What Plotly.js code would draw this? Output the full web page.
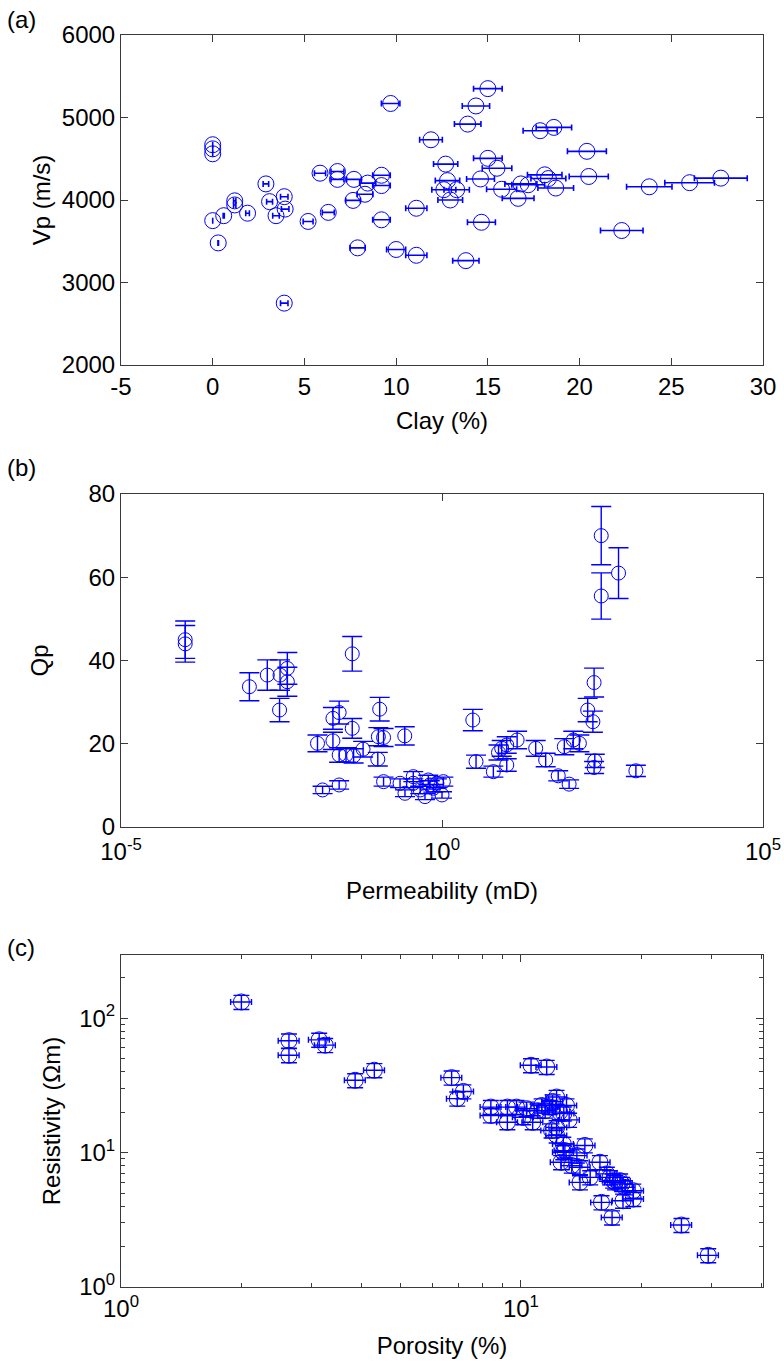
<!DOCTYPE html>
<html>
<head>
<meta charset="utf-8">
<script src="https://cdn.plot.ly/plotly-3.0.1.min.js"></script>
<style>html,body{margin:0;padding:0;background:#fff;}#chart{width:784px;height:1368px;}</style>
</head>
<body>
<div id="chart"></div>
<script>
// ---------- Panel (a): Vp vs Clay ----------
const clayPct = [0,0,0,0,0.6,0.3,1.2,1.2,1.9,2.9,3.1,3.45,3.9,3.95,3.9,5.2,5.85,6.3,6.8,6.8,7.7,7.65,8.45,8.3,7.9,9.2,9.2,9.2,9.7,10.0,11.1,11.1,11.9,15.0,14.35,13.9,12.7,12.8,12.6,13.3,12.95,15.0,15.5,14.6,15.75,16.65,16.8,17.2,14.65,13.8,17.85,18.6,18.1,18.3,18.7,20.4,20.5,22.3,23.8,26.0,27.7];
const vpMs = [4670,4620,4560,3750,3810,3480,3990,3940,3840,4195,3980,3810,4040,3890,2750,3740,4325,3850,4345,4250,4250,3995,4205,4070,3420,4300,4175,3760,5170,3400,3330,3900,4730,5350,5140,4920,4435,4235,4125,4125,4000,4505,4385,4255,4130,4020,4195,4185,3730,3265,4840,4880,4305,4260,4145,4590,4285,3630,4160,4210,4265];
const clayTicks = [-5,0,5,10,15,20,25,30];
const clayTickText = ['-5','0','5','10','15','20','25','30'];

// ---------- Panel (b): Qp vs Permeability ----------
const permMd = [1.0e-4,1.0e-4,1.0e-3,1.9e-3,3.0e-3,3.9e-3,3.9e-3,2.95e-3,0.040,0.025,0.020,0.0115,0.020,0.040,0.025,0.032,0.042,0.059,0.107,0.102,0.123,0.100,0.263,0.0138,0.025,0.123,
  0.222,0.357,0.357,0.612,1.05,0.265,0.543,0.733,1.0,0.646,0.457,0.832,
  302,562,302,234,186,224,3.02,3.39,6.31,7.59,8.51,10.2,10.2,14.8,28.8,41.2,64.6,95.5,80.4,111,138,240,234,1047];
const qp = [45.0,44.0,33.7,36.5,36.5,38.1,34.9,28.1,41.6,27.5,26.1,20.1,20.7,23.7,17.3,17.3,17.1,18.7,28.3,21.7,21.5,16.3,21.9,8.9,10.1,10.9,
  10.5,12.1,10.5,11.3,10.9,8.1,7.3,9.3,7.7,10.1,8.9,10.5,
  70.0,61.0,55.5,34.7,28.1,25.3,25.7,15.7,13.3,17.9,18.9,19.7,14.9,20.9,18.9,16.1,12.3,10.3,19.3,20.9,20.1,15.9,14.3,13.5];
const permTicks = [1e-5,1,1e5];
const permTickText = ['10<sup>-5</sup>','10<sup>0</sup>','10<sup>5</sup>'];

// ---------- Panel (c): Resistivity vs Porosity ----------
const porosityPct = [2.0,2.63,2.63,3.13,3.24,3.85,4.3,6.71,6.93,7.18,8.41,8.41,9.25,9.25,10.6,11.6,
  10.33,10.7,10.13,11.27,12.28,13.0,11.8,12.5,12.28,12.28,11.93,12.76,14.45,12.6,13.4,13.8,14.05,14.9,15.76,16.4,17.2,18.2,19.1,19.1,18.0,15.9,16.9,16.7,17.7,14.05,12.76,9.75,
  12.88,17.0,17.9,11.0,12.0,12.8,11.5,13.2,25.2,29.4];
const resistivity = [132,68,53,69,63,34.5,41,36.1,25.2,28.5,21.8,18.9,21.8,16.8,44.6,43.3,
  21.2,16.8,18.3,22.4,25.9,22.4,21.8,20.0,15.4,13.4,14.6,10.05,11.3,8.47,8.0,9.5,6.0,6.54,8.47,6.94,6.0,5.51,5.2,4.51,4.38,4.26,3.29,6.54,6.18,7.77,11.6,21.8,
  10.35,6.18,5.84,20.5,24.0,19.5,20.5,17.5,2.89,1.72];

const BLUE = '#0000ff';
const AX = '#3a3a3a';

const traces = [
  {x: clayPct, y: vpMs, type:'scatter', mode:'markers', xaxis:'x', yaxis:'y',
   marker:{symbol:'circle-open', size:16, color:BLUE, line:{width:1, color:BLUE}},
   error_x:{type:'percent', value:5.2, visible:true, color:BLUE, thickness:1.6, width:3}},
  {x: permMd, y: qp, type:'scatter', mode:'markers', xaxis:'x2', yaxis:'y2',
   marker:{symbol:'circle-open', size:14, color:BLUE, line:{width:1, color:BLUE}},
   error_y:{type:'percent', value:10, visible:true, color:BLUE, thickness:1.4, width:10}},
  {x: porosityPct, y: resistivity, type:'scatter', mode:'markers', xaxis:'x3', yaxis:'y3',
   marker:{symbol:'circle-open', size:16, color:BLUE, line:{width:1, color:BLUE}},
   error_x:{type:'percent', value:6, visible:true, color:BLUE, thickness:1.4, width:3},
   error_y:{type:'percent', value:12, visible:true, color:BLUE, thickness:1.4, width:8}}
];

const FONT = {family:'"Liberation Sans", Arial, sans-serif', size:24, color:'#000'};
const TICKFONT = {family:'"Liberation Sans", Arial, sans-serif', size:24, color:'#000'};
const base = {showline:true, linecolor:AX, linewidth:1, mirror:'ticks', ticks:'inside', ticklen:7,
  tickcolor:AX, tickwidth:1, showgrid:false, zeroline:false, tickfont:TICKFONT, automargin:false};
const xdom = [121/784, 763/784];

const layout = {
  width:784, height:1368, margin:{l:0, r:0, t:0, b:0},
  paper_bgcolor:'#fff', plot_bgcolor:'#fff', showlegend:false, font:FONT,
  xaxis: Object.assign({}, base, {domain:xdom, anchor:'y', range:[-5,30], tickvals:clayTicks, ticktext:clayTickText,
    title:{text:'Clay (%)', font:FONT, standoff:13}}),
  yaxis: Object.assign({}, base, {domain:[1-365/1368, 1-35/1368], anchor:'x', range:[2000,6000], dtick:1000,
    title:{text:'Vp (m/s)', font:FONT, standoff:4}}),
  xaxis2: Object.assign({}, base, {domain:xdom, anchor:'y2', type:'log', range:[-5,5],
    tickvals:permTicks, ticktext:permTickText, ticklabelstandoff:3,
    title:{text:'Permeability (mD)', font:FONT, standoff:18}}),
  yaxis2: Object.assign({}, base, {domain:[1-827/1368, 1-494/1368], anchor:'x2', range:[0,80], dtick:20,
    title:{text:'Qp', font:FONT, standoff:33}}),
  xaxis3: Object.assign({}, base, {domain:xdom, anchor:'y3', type:'log', range:[0, Math.log10(40.3)],
    tickvals:[1,10], ticktext:['10<sup>0</sup>','10<sup>1</sup>'],
    minor:{tickvals:[2,3,4,5,6,7,8,9,20,30,40], ticks:'inside', ticklen:4, tickcolor:AX, showgrid:false},
    title:{text:'Porosity (%)', font:FONT, standoff:16}}),
  yaxis3: Object.assign({}, base, {domain:[1-1287/1368, 1-955/1368], anchor:'x3', type:'log', range:[0, 2.47],
    tickvals:[1,10,100], ticktext:['10<sup>0</sup>','10<sup>1</sup>','10<sup>2</sup>'],
    minor:{tickvals:[2,3,4,5,6,7,8,9,20,30,40,50,60,70,80,90,200], ticks:'inside', ticklen:4, tickcolor:AX, showgrid:false},
    title:{text:'Resistivity (Ωm)', font:FONT, standoff:11}}),
  annotations:[
    {text:'(a)', xref:'paper', yref:'paper', x:5/784, y:1-4/1368, xanchor:'left', yanchor:'top', showarrow:false, font:FONT},
    {text:'(b)', xref:'paper', yref:'paper', x:5/784, y:1-452/1368, xanchor:'left', yanchor:'top', showarrow:false, font:FONT},
    {text:'(c)', xref:'paper', yref:'paper', x:5/784, y:1-932/1368, xanchor:'left', yanchor:'top', showarrow:false, font:FONT}
  ]
};

Plotly.newPlot('chart', traces, layout, {staticPlot:true, displayModeBar:false});
</script>
</body>
</html>
